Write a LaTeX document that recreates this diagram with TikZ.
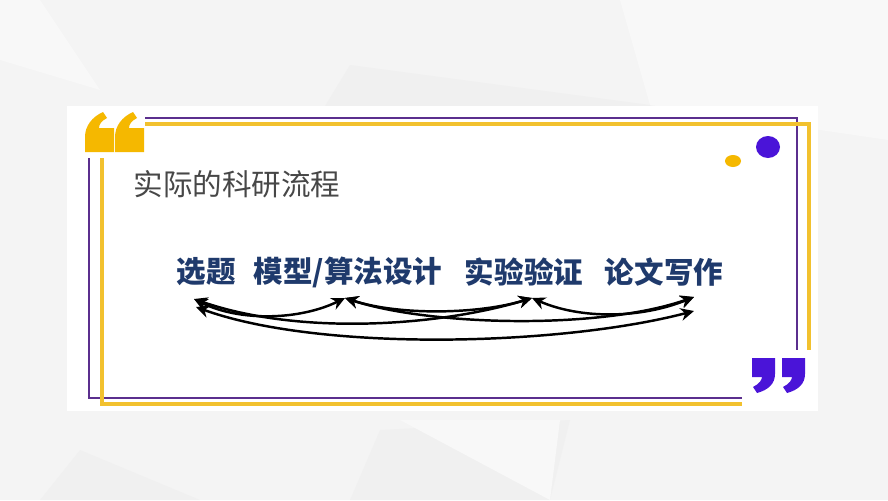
\documentclass[tikz,border=0pt]{standalone}
\usepackage{fontspec}
\newfontfamily\cjk{Noto Sans CJK SC}
\usetikzlibrary{arrows.meta}
\definecolor{quoteyellow}{HTML}{F5B800}
\definecolor{frameyellow}{HTML}{F2C12E}
\definecolor{framepurple}{HTML}{5B2F8E}
\definecolor{quotepurple}{HTML}{4A14D8}
\definecolor{navytext}{HTML}{1F3A6C}
\definecolor{titlegray}{HTML}{474747}
\definecolor{bggray}{HTML}{F4F4F4}
\definecolor{bgdark}{HTML}{F0F0F0}
\definecolor{bglight}{HTML}{F8F8F8}

\begin{document}
\begin{tikzpicture}[x=0.01cm,y=-0.01cm,
  stagestyle/.style={text=navytext,font=\cjk\bfseries\fontsize{8.4}{10}\selectfont,inner sep=0},
  flowstyle/.style={<->,>={Stealth[length=3.8pt,width=3.6pt]},line width=0.7pt}]
\useasboundingbox (0,0) rectangle (888,500);
% background
\fill[bggray] (0,0) rectangle (888,500);
\fill[bglight] (0,0) -- (40,0) -- (100,90) -- (0,60) -- cycle;
\fill[bgdark] (350,65) -- (650,105) -- (700,180) -- (280,180) -- cycle;
\fill[bglight] (620,0) -- (888,0) -- (888,140) -- (650,105) -- cycle;
\fill[bgdark] (380,430) -- (570,420) -- (550,500) -- (350,500) -- cycle;
\fill[bglight] (400,420) -- (560,420) -- (550,500) -- cycle;
\fill[bgdark] (80,450) -- (200,500) -- (40,500) -- cycle;
\fill[white] (67,106) rectangle (818,411);
% frames
\draw[framepurple,line width=0.3pt] (145,118) -- (797,118) -- (797,350);
\draw[framepurple,line width=0.3pt] (89,158) -- (89,398) -- (742,398);
\draw[frameyellow,line width=0.9pt] (145,124) -- (809,124) -- (809,350);
\draw[frameyellow,line width=0.9pt] (102,158) -- (102,404) -- (742,404);
% quote marks
\foreach \dx in {0,30}
  \fill[quoteyellow,shift={(\dx,0)}] (85,152) -- (85,137) .. controls (85,126) and (92,117) .. (103,112)
    -- (107,118) .. controls (101,121) and (99,125) .. (99,128) -- (114,128) -- (114,152) -- cycle;
\foreach \dx in {0,30}
  \fill[quotepurple,shift={(\dx,0)}] (752,358) -- (775,358) -- (775,374) .. controls (775,384) and (768,390) .. (757,393)
    -- (753,387) .. controls (759,384) and (762,380) .. (762,377) -- (752,377) -- cycle;
% dots
\fill[quotepurple] (768,147) ellipse (12 and 11);
\fill[quoteyellow] (733,161) ellipse (8 and 6);
% texts
\node[anchor=west,text=titlegray,font=\cjk\fontsize{8.4}{10}\selectfont,inner sep=0] (title) at (133,184) {实际的科研流程};
\node[stagestyle] (xt) at (206,272) {选题};
\node[stagestyle] (mx) at (348,272) {模型/算法设计};
\node[stagestyle] (sy) at (524,272) {实验验证};
\node[stagestyle] (lw) at (664,272) {论文写作};
% arrow ends
\coordinate (xta) at ([shift={(-12,27)}]xt.center);
\coordinate (xtb) at ([shift={(-10,35)}]xt.center);
\coordinate (mxa) at ([shift={(-3,26)}]mx.center);
\coordinate (sya) at ([shift={(8,26)}]sy.center);
\coordinate (lwa) at ([shift={(30,25)}]lw.center);
\coordinate (lwb) at ([shift={(30,39)}]lw.center);
% flows
\foreach \s/\c/\d/\e in {xta/{(240,322)}/{(300,320)}/mxa,
                        xta/{(300,336)}/{(440,326)}/sya,
                        mxa/{(400,316)}/{(480,314)}/sya,
                        mxa/{(430,326)}/{(600,330)}/lwa,
                        sya/{(580,319)}/{(640,319)}/lwa,
                        xtb/{(320,352)}/{(560,346)}/lwb}
  \draw[flowstyle] (\s) .. controls \c and \d .. (\e);
\end{tikzpicture}
\end{document}
